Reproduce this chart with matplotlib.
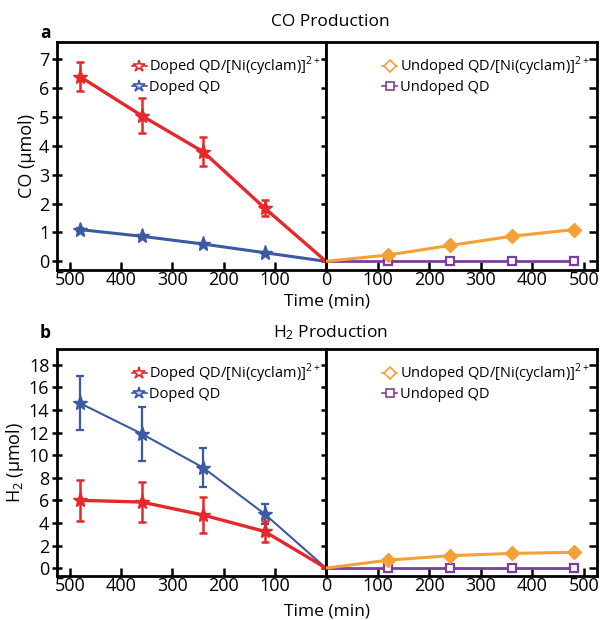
import matplotlib
matplotlib.use("Agg")
import matplotlib.pyplot as plt
from matplotlib.lines import Line2D

plt.rcParams['font.family'] = ['Open Sans', 'DejaVu Sans']
plt.rcParams['mathtext.fontset'] = 'custom'
plt.rcParams['mathtext.rm'] = 'Open Sans'

time = [480, 360, 240, 120, 0]
time_r = [0, 120, 240, 360, 480]

co_doped_ni = [6.4, 5.05, 3.8, 1.85, 0.0]
co_doped_ni_err = [0.5, 0.6, 0.5, 0.28, 0.0]
co_doped = [1.1, 0.87, 0.6, 0.3, 0.0]
co_doped_err = [0.05, 0.05, 0.04, 0.03, 0.0]
co_undoped_ni = [0.0, 0.22, 0.55, 0.87, 1.1]
co_undoped = [0.0, 0.0, 0.0, 0.0, 0.0]

h2_doped_ni = [6.0, 5.85, 4.7, 3.25, 0.0]
h2_doped_ni_err = [1.8, 1.75, 1.6, 0.9, 0.0]
h2_doped = [14.6, 11.9, 8.9, 4.8, 0.0]
h2_doped_err = [2.4, 2.4, 1.7, 0.9, 0.0]
h2_undoped_ni = [0.0, 0.7, 1.1, 1.3, 1.4]
h2_undoped = [0.0, 0.0, 0.0, 0.0, 0.0]

left_xticks = [500, 400, 300, 200, 100]
right_xticks = [0, 100, 200, 300, 400, 500]
co_yticks = list(range(0, 8))
h2_yticks = list(range(0, 20, 2))

RED = '#e5282b'
BLUE = '#3b5aa3'
ORANGE = '#f4a034'
PURPLE = '#7a3f9d'

fig = plt.figure(figsize=(6.03, 6.20), dpi=100)

W, H = 603, 620
def rect(x0, y0, x1, y1):
    return [x0 / W, 1 - y1 / H, (x1 - x0) / W, (y1 - y0) / H]

lab_left = 'Doped QD/[Ni(cyclam)]$^{2+}$'
lab_left2 = 'Doped QD'
lab_right = 'Undoped QD/[Ni(cyclam)]$^{2+}$'
lab_right2 = 'Undoped QD'

def style(ax, side):
    for s in ax.spines.values():
        s.set_linewidth(2.0)
    ax.tick_params(axis='both', labelsize=13, width=1.8, length=6, pad=2)
    ax.tick_params(axis='x', direction='in', pad=1)
    if side == 'left':
        ax.tick_params(axis='y', direction='inout', left=True, right=True, length=7)
    else:
        ax.tick_params(axis='y', direction='in', left=False, right=True, labelleft=False)

def panel(y0, y1, ylim, yticks, ylabel, dni, dni_e, dd, dd_e, uni, ud, title, letter,
          title_y, letter_y, xlabel_y, blue_lw):
    axl = fig.add_axes(rect(57, y0, 326, y1))
    axr = fig.add_axes(rect(326, y0, 597, y1))
    axl.errorbar(time, dni, yerr=dni_e, color=RED, lw=2.4, marker='*', ms=11,
                 markevery=[0, 1, 2, 3],
                 elinewidth=1.8, capsize=3, capthick=1.8, zorder=3)
    axl.errorbar(time, dd, yerr=dd_e, color=BLUE, lw=blue_lw, marker='*', ms=11,
                 markevery=[0, 1, 2, 3],
                 elinewidth=1.6, capsize=3, capthick=1.6, zorder=2)
    axl.set_xlim(525, 0)
    axl.set_ylim(*ylim)
    axl.set_xticks(left_xticks)
    axl.set_yticks(yticks)
    axl.set_ylabel(ylabel, fontsize=13, labelpad=2)
    style(axl, 'left')

    axr.plot(time_r, uni, color=ORANGE, lw=2.2, marker='D', ms=7,
             markevery=[1, 2, 3, 4], zorder=3)
    axr.plot(time_r, ud, color=PURPLE, lw=2.0, marker='s', ms=6, mfc='white',
             markevery=[1, 2, 3, 4], mew=1.6, zorder=2)
    axr.set_xlim(0, 525)
    axr.set_ylim(*ylim)
    axr.set_xticks(right_xticks)
    axr.set_yticks(yticks)
    style(axr, 'right')

    hl = [Line2D([], [], color=RED, lw=1.2, marker='*', ms=9, mfc='white', mew=1.2),
          Line2D([], [], color=BLUE, lw=1.2, marker='*', ms=9, mfc='#c9d3ea', mew=1.2)]
    axl.legend(hl, [lab_left, lab_left2], loc='upper left', bbox_to_anchor=(0.23, 1.0),
               frameon=False, fontsize=10.5, handlelength=1.0, handletextpad=0.2,
               labelspacing=0.1, borderaxespad=0.5)
    hr = [Line2D([], [], color=ORANGE, lw=1.2, marker='D', ms=6, mfc='white', mew=1.2),
          Line2D([], [], color=PURPLE, lw=1.2, marker='s', ms=6, mfc='white', mew=1.2)]
    axr.legend(hr, [lab_right, lab_right2], loc='upper left', bbox_to_anchor=(0.16, 1.0),
               frameon=False, fontsize=10.5, handlelength=1.0, handletextpad=0.2,
               labelspacing=0.1, borderaxespad=0.5)

    fig.text(330 / W, 1 - title_y / H, title, ha='center', va='center', fontsize=12.5)
    fig.text(40 / W, 1 - letter_y / H, letter, ha='left', va='center', fontsize=12.5,
             fontweight='bold')
    fig.text(327 / W, 1 - xlabel_y / H, 'Time (min)', ha='center', va='bottom', fontsize=12.5)

panel(42, 270, (-0.3, 7.6), co_yticks, 'CO (μmol)', co_doped_ni, co_doped_ni_err,
      co_doped, co_doped_err, co_undoped_ni, co_undoped, 'CO Production', 'a',
      22, 33, 309, 2.2)
panel(349, 576, (-0.7, 19.4), h2_yticks, r'$\mathregular{H_2}$ (μmol)', h2_doped_ni,
      h2_doped_ni_err, h2_doped, h2_doped_err, h2_undoped_ni, h2_undoped,
      r'$\mathregular{H_2}$ Production', 'b', 333, 333, 619, 1.5)

fig.savefig('out.png', dpi=100)
